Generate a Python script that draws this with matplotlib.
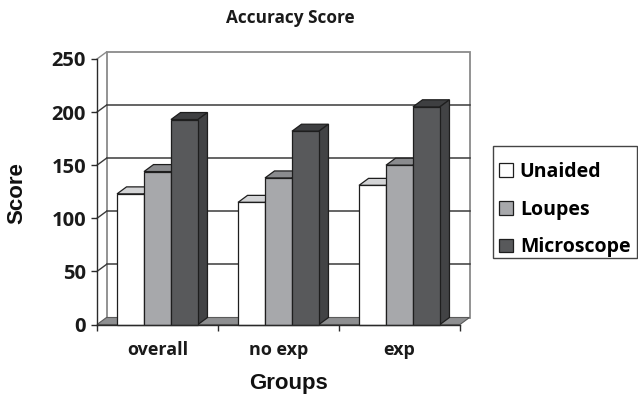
import matplotlib
matplotlib.use("Agg")
import matplotlib.pyplot as plt
from matplotlib.patches import Polygon, Patch, Rectangle
import numpy as np

# ---- data ----
groups = ["overall", "no exp", "exp"]
series = ["Unaided", "Loupes", "Microscope"]
unaided = [123, 115, 131]
loupes = [144, 138, 150]
microscope = [193, 182, 205]
y_ticks = [0, 50, 100, 150, 200, 250]

# ---- styling ----
front_colors = ["#ffffff", "#a7a8ab", "#58595b"]
top_colors = ["#d3d4d6", "#8a8b8e", "#3e3f41"]
side_colors = ["#e0e0e0", "#7d7e80", "#424345"]
edge = "#1e1e1e"
TEXT_CAL = ["Open Sans", "DejaVu Sans"]
TEXT_ARIAL = ["Liberation Sans", "DejaVu Sans"]

W, H, DPI = 638, 397, 100
fig = plt.figure(figsize=(W / DPI, H / DPI), dpi=DPI)
fig.patch.set_facecolor("white")

# front plane of the 3-D box
ax = fig.add_axes([97 / W, (H - 324.5) / H, (460 - 97) / W, (324.5 - 59) / H])
ax.set_xlim(-0.5, 2.5)
ax.set_ylim(0, 250)
ax.patch.set_alpha(0)

# depth offset (pixels -> data units)
depth_px = (9.5, 7.0)
ax_w_px = (460 - 97)
ax_h_px = (324.5 - 59)
dx = depth_px[0] * 3.0 / ax_w_px
dy = depth_px[1] * 250.0 / ax_h_px

x0, x1 = -0.5, 2.5

# back wall
wall = Polygon([(x0 + dx, dy), (x1 + dx, dy), (x1 + dx, 250 + dy), (x0 + dx, 250 + dy)],
               closed=True, facecolor="white", edgecolor="#8a8a8a", lw=1.3,
               clip_on=False, zorder=0.5)
ax.add_patch(wall)

# gridlines on the back wall and on the left wall
for v in y_ticks[1:]:
    col = "#3a3a3a" if v < 250 else "#8a8a8a"
    if v < 250:
        ax.plot([x0 + dx, x1 + dx], [v + dy, v + dy], color=col, lw=1.1,
                clip_on=False, zorder=0.6)
    ax.plot([x0, x0 + dx], [v, v + dy], color=col, lw=1.0, clip_on=False, zorder=0.6)

# floor
floor = Polygon([(x0, 0), (x1, 0), (x1 + dx, dy), (x0 + dx, dy)], closed=True,
                facecolor="#8e8f91", edgecolor="#5a5a5a", lw=0.8,
                clip_on=False, zorder=0.7)
ax.add_patch(floor)

# bars: front face via ax.bar, top and right side as parallelograms
bar_w = 0.223
x = np.arange(len(groups))
values = [unaided, loupes, microscope]
for gi in range(len(groups)):
    for si, vals in enumerate(values):
        left = x[gi] + (si - 1) * bar_w - bar_w / 2
        right = left + bar_w
        v = vals[gi]
        z = 2 + gi * 3 + si
        top = Polygon([(left, v), (right, v), (right + dx, v + dy), (left + dx, v + dy)],
                      closed=True, facecolor=top_colors[si], edgecolor=edge, lw=0.9,
                      clip_on=False, zorder=z, joinstyle="miter")
        side = Polygon([(right, 0), (right + dx, dy), (right + dx, v + dy), (right, v)],
                       closed=True, facecolor=side_colors[si], edgecolor=edge, lw=0.9,
                       clip_on=False, zorder=z)
        ax.add_patch(top)
        ax.add_patch(side)
        ax.bar(left, v, width=bar_w, align="edge", color=front_colors[si],
               edgecolor=edge, lw=0.9, zorder=z + 0.1, clip_on=False)

# axes spines / ticks
for s in ["top", "right"]:
    ax.spines[s].set_visible(False)
for s in ["left", "bottom"]:
    ax.spines[s].set_color("#2a2a2a")
    ax.spines[s].set_linewidth(1.0)
    ax.spines[s].set_zorder(20)

ax.set_yticks(y_ticks)
ax.set_yticklabels([str(t) for t in y_ticks], fontfamily=TEXT_CAL,
                   fontweight="bold", fontsize=14.5, color="#1a1a1a")
ax.tick_params(axis="y", direction="out", length=4, width=1.0, color="#2a2a2a", pad=4)

ax.set_xticks(x)
ax.set_xticklabels(groups, fontfamily=TEXT_CAL, fontweight="bold",
                   fontsize=13, color="#1a1a1a")
ax.set_xticks([-0.5, 0.5, 1.5, 2.5], minor=True)
ax.tick_params(axis="x", which="major", length=0, pad=12)
ax.tick_params(axis="x", which="minor", direction="out", length=4, width=1.0,
               color="#2a2a2a")

# titles
fig.text(290 / W, 1 - 18 / H, "Accuracy Score", ha="center", va="center",
         fontfamily=TEXT_CAL, fontweight="bold", fontsize=12.4, color="#1a1a1a")
fig.text(288 / W, 1 - 383 / H, "Groups", ha="center", va="center",
         fontfamily=TEXT_ARIAL, fontweight="bold", fontsize=16, color="#111111")
fig.text(17 / W, 1 - 193 / H, "Score", ha="center", va="center", rotation=90,
         fontfamily=TEXT_ARIAL, fontweight="bold", fontsize=16, color="#111111")

# legend: entries without frame, box drawn separately
handles = [Patch(facecolor=front_colors[i], edgecolor=edge, lw=0.9, label=series[i])
           for i in range(3)]
leg = fig.legend(handles=handles, loc="center left",
                 bbox_to_anchor=(495.5 / W, 1 - 209.5 / H),
                 frameon=False, borderaxespad=0,
                 prop={"family": TEXT_CAL, "weight": "bold", "size": 14},
                 handlelength=0.7, handleheight=0.7, handletextpad=0.35,
                 labelspacing=0.91, borderpad=0.2)
fig.patches.append(Rectangle((493 / W, 1 - 258 / H), (637 - 493) / W, (258 - 146) / H,
                             transform=fig.transFigure, facecolor="none",
                             edgecolor="#444444", lw=1.0))

fig.savefig("out.png", dpi=DPI, facecolor="white")
